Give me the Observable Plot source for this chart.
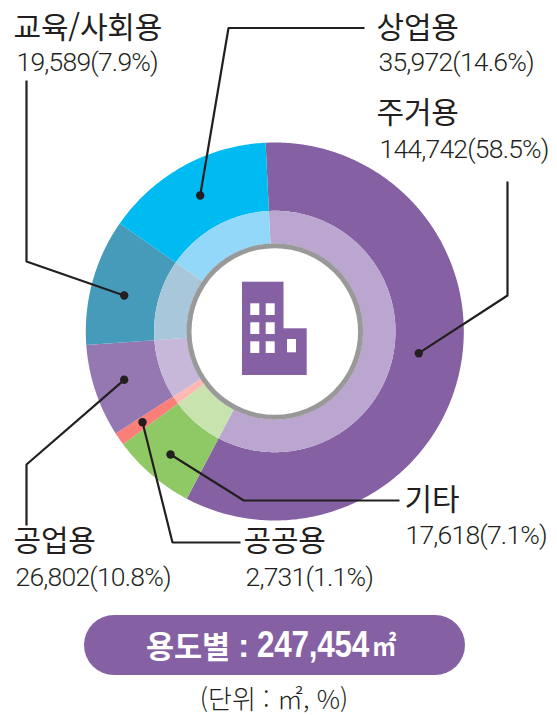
<!DOCTYPE html>
<html lang="ko">
<head>
<meta charset="utf-8">
<script src="https://cdn.jsdelivr.net/npm/d3@7"></script>
<script src="https://cdn.jsdelivr.net/npm/@observablehq/plot@0.6"></script>
<style>
  html, body { margin: 0; padding: 0; background: #fff; width: 557px; height: 716px; overflow: hidden; }
  svg { display: block; }
  .num text { letter-spacing: -0.8px; }
  .name text { letter-spacing: -0.2px; }
  #pill { position: absolute; left: 84px; top: 615px; width: 381px; height: 60px; border-radius: 30px;
          background: #8561a3; color: #fff; line-height: 60px; white-space: nowrap;
          font-family: "Noto Sans CJK KR", sans-serif; font-weight: 700; }
  #pill span { position: absolute; top: 0; }
  #pill .ko { left: 62px; font-size: 30.5px; }
  #pill .colon { left: 154px; font-family: "Liberation Sans", sans-serif; font-size: 34px; }
  #pill .total { left: 173px; font-family: "Liberation Sans", sans-serif; font-size: 37px; letter-spacing: -0.3px;
                 transform: scaleX(.85); transform-origin: 0 50%; }
  #pill .unit { left: 288px; font-size: 27px; transform: scaleX(.9); transform-origin: 0 50%; }
  #unit { position: absolute; left: 0; top: 681px; width: 548px; text-align: center; line-height: 34px; white-space: nowrap;
          font-family: "Noto Sans CJK KR", sans-serif; font-weight: 300; font-size: 26px; color: #231f20; }
</style>
</head>
<body>
<div id="chart"></div>
<div id="pill"><span class="ko">용도별 </span><span class="colon">: </span><span class="total">247,454</span><span class="unit">㎡</span></div>
<div id="unit">(단위 : ㎡, %)</div>
<script>
// Labelled values (placement order: clockwise from the largest slice)
const categories = ["주거용", "기타", "공공용", "공업용", "교육/사회용", "상업용"];
const areas = [144742, 17618, 2731, 26802, 19589, 35972];
const shares = ["58.5", "7.1", "1.1", "10.8", "7.9", "14.6"];
// Slice sizes as the picture draws them: the 공업용 slice is drawn at about 7.9%, the 교육/사회용 slice at about 10.8%
const drawnAreas = [144742, 17618, 2731, 19589, 26802, 35972];
const outerColors = ["#8561a3", "#8fc965", "#f97f78", "#9577b1", "#479bba", "#00baf2"];
const innerColors = ["#baa6ce", "#c9e3af", "#ffb8b2", "#c7b7d8", "#a8c7db", "#93d8f8"];

// Layout (in the chart's own frame)
const W = 557, H = 605, CX = 274.3, CY = 331;
const R_OUT = 189, R_MID = 120.7, R_IN = 88, START_DEG = -2.8;
const labelAnchors = [
  {nameX: 376, nameY: 113, numX: 379, numY: 149},
  {nameX: 404, nameY: 500, numX: 405, numY: 535},
  {nameX: 243, nameY: 541, numX: 245, numY: 577},
  {nameX: 13,  nameY: 541, numX: 15,  numY: 577},
  {nameX: 13,  nameY: 28,  numX: 16,  numY: 62},
  {nameX: 376, nameY: 28,  numX: 378, numY: 62}
];
const leaders = [
  [[418.3, 352.7], [507, 295], [507, 181]],
  [[170, 454], [243.3, 500], [399, 500]],
  [[142, 421.7], [172, 542], [240, 542]],
  [[123.7, 379.3], [26, 464], [26, 525]],
  [[123.7, 295], [26, 261], [26, 80]],
  [[199.7, 195], [228, 27.5], [364, 27.5]]
];
const iconBody = [
  {x1: 242, x2: 283.5, y1: 281.7, y2: 375},
  {x1: 282.5, x2: 306.7, y1: 328.3, y2: 375}
];
const iconWindows = [
  {x1: 250.3, x2: 259.3, y1: 303.3, y2: 315},
  {x1: 265.7, x2: 274.7, y1: 303.3, y2: 315},
  {x1: 250.3, x2: 259.3, y1: 322.3, y2: 334},
  {x1: 265.7, x2: 274.7, y1: 322.3, y2: 334},
  {x1: 250.3, x2: 259.3, y1: 341.3, y2: 353},
  {x1: 265.7, x2: 274.7, y1: 341.3, y2: 353},
  {x1: 287, x2: 296, y1: 339, y2: 352.3}
];

// Slices: angles derived from the drawn sizes
const total = d3.sum(drawnAreas);
let acc = START_DEG;
const slices = categories.map((name, i) => {
  const a0 = acc, a1 = acc + drawnAreas[i] / total * 360;
  acc = a1;
  return {name, i, a0, a1};
});
function ringOutline(s, r0, r1, color, ring) {
  const n = Math.max(2, Math.ceil((s.a1 - s.a0) * 1.5));
  const pt = (deg, r) => {
    const t = deg * Math.PI / 180;
    return {x: CX + r * Math.sin(t), y: CY - r * Math.cos(t), key: ring + s.i, color};
  };
  const out = [];
  for (let k = 0; k <= n; ++k) out.push(pt(s.a0 + (s.a1 - s.a0) * k / n, r1));
  for (let k = n; k >= 0; --k) out.push(pt(s.a0 + (s.a1 - s.a0) * k / n, r0));
  return out;
}
const outerPts = slices.flatMap(s => ringOutline(s, R_MID, R_OUT, outerColors[s.i], "o"));
const innerPts = slices.flatMap(s => ringOutline(s, R_IN, R_MID, innerColors[s.i], "i"));
const leaderPts = leaders.flatMap((l, i) => l.map(([x, y]) => ({x, y, i})));
const dots = leaders.map(l => ({x: l[0][0], y: l[0][1]}));
const labels = categories.map((name, i) => ({
  name, num: `${d3.format(",")(areas[i])}(${shares[i]}%)`, ...labelAnchors[i]
}));
const centre = [{x: CX, y: CY}];
const font = '"Noto Sans CJK KR", sans-serif';
const ring = {x: "x", y: "y", z: "key", fill: "color", stroke: "none", curve: "linear-closed"};

const chart = Plot.plot({
  width: W, height: H, margin: 0,
  x: {domain: [0, W], range: [0, W], axis: null},
  y: {domain: [0, H], range: [0, H], axis: null},
  color: {type: "identity"},
  marks: [
    Plot.line(outerPts, ring),
    Plot.line(innerPts, ring),
    Plot.dot(centre, {x: "x", y: "y", r: 88.3, fill: "#999999", stroke: "none"}),
    Plot.dot(centre, {x: "x", y: "y", r: 83.3, fill: "#ffffff", stroke: "none"}),
    Plot.rect(iconBody, {x1: "x1", x2: "x2", y1: "y1", y2: "y2", fill: "#8561a3"}),
    Plot.rect(iconWindows, {x1: "x1", x2: "x2", y1: "y1", y2: "y2", fill: "#ffffff"}),
    Plot.line(leaderPts, {x: "x", y: "y", z: "i", stroke: "#231f20", strokeWidth: 2.2,
      strokeLinejoin: "miter", strokeLinecap: "butt"}),
    Plot.dot(dots, {x: "x", y: "y", r: 4.2, fill: "#231f20", stroke: "none"}),
    Plot.text(labels, {x: "nameX", y: "nameY", text: "name", textAnchor: "start", lineAnchor: "middle",
      fontFamily: font, fontSize: 30, fontWeight: 400, fill: "#231f20", className: "name"}),
    Plot.text(labels, {x: "numX", y: "numY", text: "num", textAnchor: "start", lineAnchor: "middle",
      fontFamily: 'Roboto, "Liberation Sans", sans-serif', fontSize: 26.5, fontWeight: 300, fill: "#231f20", className: "num"})
  ]
});
document.getElementById("chart").append(chart);
</script>
</body>
</html>
